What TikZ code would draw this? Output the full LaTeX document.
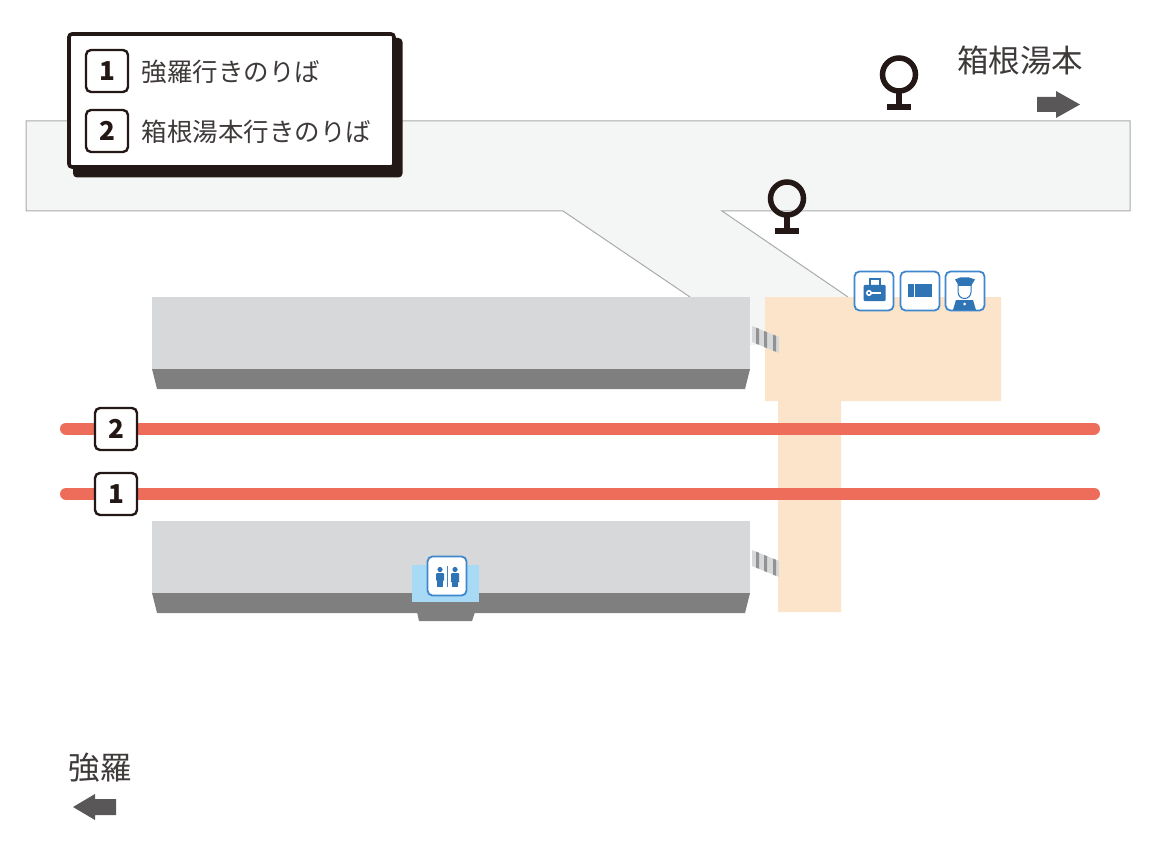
\documentclass[tikz,border=0pt]{standalone}
\usepackage{fontspec}
\setmainfont{Noto Sans CJK JP}
\usetikzlibrary{positioning}
\definecolor{inkdark}{HTML}{231815}
\definecolor{inkgrey}{HTML}{3E3A39}
\definecolor{arrowgrey}{HTML}{595757}
\definecolor{floorgrey}{HTML}{F4F6F5}
\definecolor{floorline}{HTML}{A9ABAB}
\definecolor{platgrey}{HTML}{D7D8DA}
\definecolor{platedge}{HTML}{7F7F7F}
\definecolor{peach}{HTML}{FCE4CB}
\definecolor{trackred}{HTML}{EE6C5A}
\definecolor{iconblue}{HTML}{2F74B5}
\definecolor{iconline}{HTML}{3F86CC}
\definecolor{wcblue}{HTML}{A8DAF6}
\tikzset{
  badge/.style={draw=inkdark,fill=white,line width=2.4pt,rounded corners=5pt,minimum width=42pt,minimum height=42pt,inner sep=0pt,font=\fontsize{26}{26}\selectfont\bfseries,text=inkdark},
  iconbox/.style={draw=iconline,fill=white,line width=1.8pt,rounded corners=5pt,minimum width=39pt,minimum height=39pt,inner sep=0pt},
  legendtext/.style={inner sep=0pt,font=\fontsize{25.5}{25.5}\selectfont,text=inkgrey},
  placetext/.style={inner sep=0pt,font=\fontsize{31.5}{31.5}\selectfont,text=inkgrey},
  track/.style={trackred,line width=12pt,line cap=round},
  sign/.style={inkdark,line width=5.5pt},
}
\begin{document}
\begin{tikzpicture}[x=1pt,y=-1pt]
  \useasboundingbox (0,0) rectangle (1156,850);
  % concourse
  \fill[floorgrey] (26,121)--(1130,121)--(1130,211)--(722,211)--(848,297)--(690,297)--(563,211)--(26,211)--cycle;
  \fill[floorgrey] (750,297) rectangle (765,345);
  \draw[floorline,line width=1pt] (690,297)--(563,211)--(26,211)--(26,121)--(1130,121)--(1130,211)--(722,211)--(848,297);
  % bridge
  \fill[peach] (765,297)--(1001,297)--(1001,401)--(841,401)--(841,612)--(778,612)--(778,401)--(765,401)--cycle;
  % platforms
  \foreach \py in {297,521}{
    \fill[platgrey] (152,\py) rectangle (750,\py+72);
    \fill[platedge] (152,\py+72)--(750,\py+72)--(745,\py+92)--(157,\py+92)--cycle;
    \fill[platgrey] (752,\py+29)--(779,\py+40)--(779,\py+56)--(752,\py+45)--cycle;
    \foreach \sx/\dy in {756/30.6,764/34,773/37.6}
      \fill[platedge!85] (\sx,\py+\dy)--(\sx+3,\py+\dy+1.2)--(\sx+3,\py+\dy+17.2)--(\sx,\py+\dy+16)--cycle;
  }
  % toilets
  \fill[platedge] (417,612)--(475,612)--(472,621)--(419,621)--cycle;
  \fill[wcblue] (412,565) rectangle (479,602);
  % tracks
  \draw[track] (66,428.5)--(1094,428.5);
  \draw[track] (66,494)--(1094,494);
  \node[badge] (track2) at (116,429) {2};
  \node[badge] (track1) at (116,494) {1};
  % legend
  \fill[inkdark,rounded corners=4pt] (73,38) rectangle (402.5,177.5);
  \draw[inkdark,fill=white,line width=3.6pt,rounded corners=3pt] (69,34) rectangle (394,167);
  \node[badge] (key1) at (107,71) {1};
  \node[badge] (key2) at (107,131) {2};
  \node[legendtext,right=12.5pt of key1,yshift=-1pt] (keytext1) {強羅行きのりば};
  \node[legendtext,right=12.5pt of key2,yshift=-1pt] (keytext2) {箱根湯本行きのりば};
  % places
  \node[placetext] (hakone) at (1020,61) {箱根湯本};
  \node[placetext] (gora) at (100,768) {強羅};
  \fill[arrowgrey] (1037,97)--(1056,97)--(1056,91)--(1080,104.5)--(1056,118)--(1056,112)--(1037,112)--cycle;
  \fill[arrowgrey] (116,799)--(95,799)--(95,794)--(73,807)--(95,820)--(95,815)--(116,815)--cycle;
  % station signs
  \foreach \sx/\sy in {899/74.5,787/198.5}{
    \draw[sign] (\sx,\sy) circle (16.5);
    \draw[sign] (\sx,\sy+16)--(\sx,\sy+32);
    \fill[inkdark] (\sx-12,\sy+29.5) rectangle (\sx+12,\sy+35.5);
  }
  % icons
  \node[iconbox] (locker) at (874,291) {};
  \node[iconbox] (ticket) at (920,291) {};
  \node[iconbox] (staff) at (965,291) {};
  \node[iconbox] (wc) at (447,576) {};
  % locker
  \draw[iconblue,line width=2pt] (869.5,286)--(869.5,279.5)--(880,279.5)--(880,286);
  \fill[iconblue,rounded corners=1pt] (863.5,285) rectangle (885.5,301);
  \draw[white,line width=1.6pt] (869,293) circle (2.2);
  \draw[white,line width=1.8pt] (871,293)--(881,293);
  % ticket
  \fill[iconblue] (908,284) rectangle (932,297);
  \draw[white,line width=1pt] (914,284)--(914,297);
  % staff
  \fill[iconblue] (956,300)--(973,300)--(976,310)--(953,310)--cycle;
  \draw[iconblue,fill=white,line width=1pt] (958,285)--(958,292) arc[start angle=180,end angle=0,radius=6.5]--(971,285)--cycle;
  \fill[iconblue] (955,279.5)--(960,277.5)--(969,277.5)--(975,279.5)--(971,286)--(959,286)--cycle;
  \fill[white] (964.5,304) circle (1.5);
  % wc
  \foreach \wx in {440,455}{
    \fill[iconblue] (\wx,569.5) circle (2.6);
    \fill[iconblue,rounded corners=1pt] (\wx-4,573) rectangle (\wx+4,581);
    \fill[iconblue] (\wx-2.8,580) rectangle (\wx+2.8,587);
  }
  \fill[iconblue] (455,573)--(459.5,582)--(450.5,582)--cycle;
  \draw[iconline,line width=0.8pt] (447.5,566)--(447.5,587);
\end{tikzpicture}
\end{document}
